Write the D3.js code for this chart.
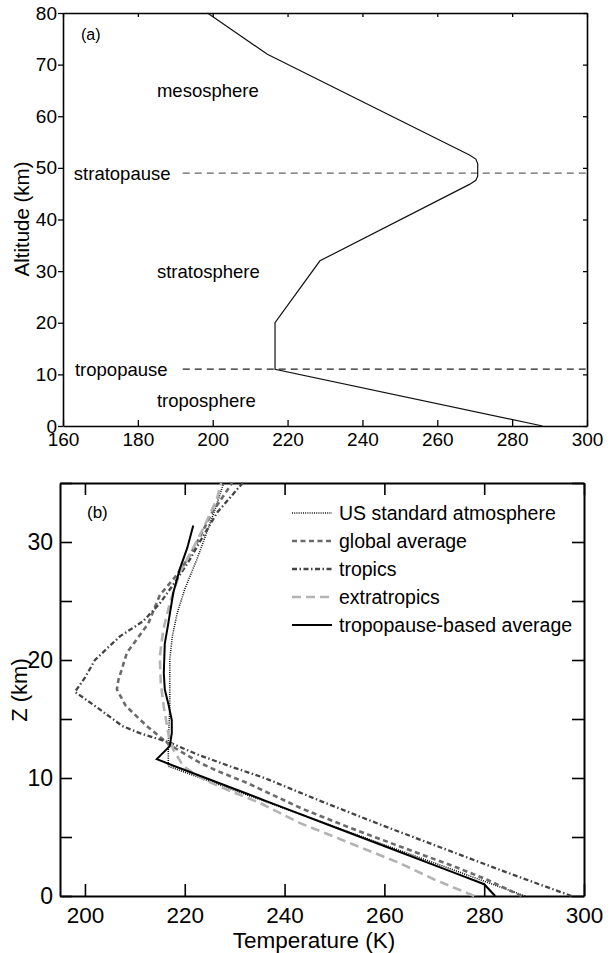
<!DOCTYPE html>
<html>
<head>
<meta charset="utf-8">
<script src="https://cdn.jsdelivr.net/npm/d3@7"></script>
<style>
  body { margin: 0; background: #fff; }
  svg { display: block; font-family: "Liberation Sans", Arial, Helvetica, sans-serif; }
</style>
</head>
<body>
<svg id="chart" width="610" height="953"></svg>
<script>
// panel (a): US standard atmosphere, 0-80 km
const tempA = [288.15, 216.65, 216.65, 228.65, 268.6, 270.3, 270.8, 270.8, 270.3, 268.6, 214.6, 198.6];
const altA  = [0, 11, 20, 32, 46.8, 47.6, 48.4, 50.8, 51.7, 52.5, 72, 80];
const layerNames = ["mesosphere", "stratopause", "stratosphere", "tropopause", "troposphere"];
const layerT = [185.1, 162.9, 185.1, 163.2, 185.1];
const layerZ = [63.7, 47.7, 28.7, 9.7, 3.6];
const pauseZ = [49, 11];
const ticksAx = [160, 180, 200, 220, 240, 260, 280, 300];
const ticksAy = [0, 10, 20, 30, 40, 50, 60, 70, 80];

// panel (b): profiles 0-35 km, [T (K), Z (km)]
const usStandard = [[288.2,0],[252.4,5.5],[216.7,11],[216.7,13],[217,16],[217,20],[217.5,22],[218.5,24],[220,26],[222.4,28.5],[224.4,30.8],[226.1,32.8],[227.8,35]];
const globalAvg = [[287.5,0],[280.5,1.4],[274,2.5],[263.1,4.2],[253,5.8],[243.5,7.4],[232.4,9.6],[226.5,10.6],[223,11.3],[217,12.8],[212.4,14.4],[208.2,16.1],[206.4,17.5],[206.7,18.3],[208.4,20.6],[212.7,23.1],[215,25.5],[218,27],[220.5,28.5],[222.5,30],[225.5,32.5],[229.5,35]];
const tropics = [[297.5,0],[284.5,2],[272,4],[259.5,6],[247.5,8],[236,10],[229,11],[222.5,12],[217,13],[211,13.8],[207.5,14.4],[202.7,15.9],[198,17.3],[200,18.5],[202,20],[207,22],[211.7,23.3],[215,24.8],[218.4,26.8],[221,28.5],[223,30],[226.5,32.5],[231.6,35]];
const extratropics = [[278,0],[270,1.4],[263,2.8],[253,4.5],[243,6.2],[235,7.9],[228.5,9],[223.7,9.9],[219.7,11],[217.7,12.4],[216.7,13.8],[215.8,16],[215.2,18],[215,20.3],[215.7,22.6],[217,24.8],[219,27.4],[221.7,29.5],[224,31.4],[226.4,33.6],[227.3,35]];
const tropoBased = [[282.2,0],[280,1],[273.8,2],[261.4,4],[249,6],[236.6,8],[224.2,10],[218,11],[214.4,11.6],[217,12.7],[217.4,13.8],[217.4,14.9],[216.7,16.3],[216,17.5],[215.8,18.9],[216,21.4],[216.7,23.1],[217.7,25.7],[219,27.7],[220.5,29.5],[221.7,31.4]];
const seriesNames = ["US standard atmosphere", "global average", "tropics", "extratropics", "tropopause-based average"];
const ticksBx = [200, 220, 240, 260, 280, 300];
const ticksBy = [0, 5, 10, 15, 20, 25, 30, 35];
const labelsBy = [0, 10, 20, 30];

const seriesData = [usStandard, globalAvg, tropics, extratropics, tropoBased];
const seriesStyle = [
  {color: "#111", width: 1.6, dash: "1,1.2"},
  {color: "#6b6b6b", width: 2.6, dash: "5,3.5"},
  {color: "#444", width: 2.3, dash: "5,2.5,1.5,2.5"},
  {color: "#b3b3b3", width: 2.6, dash: "9,5"},
  {color: "#000", width: 2, dash: null}
];

const svg = d3.select("#chart");

function styleAxis(g, w, fs) {
  g.select(".domain").attr("stroke", "#000").attr("stroke-width", w);
  g.selectAll(".tick line").attr("stroke", "#000").attr("stroke-width", w * 0.8);
  g.selectAll(".tick text").attr("fill", "#000").attr("font-size", fs)
    .attr("font-family", "'Liberation Sans', Arial, Helvetica, sans-serif");
  g.attr("font-family", null);
}

// ---------- panel (a)
const xa = d3.scaleLinear().domain([160, 300]).range([63, 587]);
const ya = d3.scaleLinear().domain([0, 80]).range([426, 13]);
const ga = svg.append("g");

ga.append("g").attr("transform", "translate(0,426)")
  .call(d3.axisBottom(xa).tickValues(ticksAx).tickSize(-6).tickSizeOuter(0).tickPadding(7))
  .call(g => styleAxis(g, 1.6, 19));
ga.append("g").attr("transform", "translate(0,13)")
  .call(d3.axisTop(xa).tickValues(ticksAx).tickSize(-4).tickSizeOuter(0).tickFormat(""))
  .call(g => styleAxis(g, 1.6, 19));
ga.append("g").attr("transform", "translate(63,0)")
  .call(d3.axisLeft(ya).tickValues(ticksAy).tickSize(5).tickSizeOuter(0).tickPadding(1))
  .call(g => styleAxis(g, 1.6, 19));
ga.append("g").attr("transform", "translate(587,0)")
  .call(d3.axisRight(ya).tickValues(ticksAy).tickSize(-4).tickSizeOuter(0).tickFormat(""))
  .call(g => styleAxis(g, 1.6, 19));

ga.selectAll("line.pause").data(pauseZ).enter().append("line")
  .attr("class", "pause")
  .attr("x1", xa(192)).attr("x2", xa(300))
  .attr("y1", d => ya(d)).attr("y2", d => ya(d))
  .attr("stroke", (d, i) => i == 0 ? "#666" : "#222")
  .attr("stroke-width", 1.3)
  .attr("stroke-dasharray", "7,5");

ga.append("path")
  .datum(d3.zip(tempA, altA))
  .attr("fill", "none").attr("stroke", "#111").attr("stroke-width", 1.2)
  .attr("d", d3.line().x(d => xa(d[0])).y(d => ya(d[1])));

ga.selectAll("text.layer").data(layerNames).enter().append("text")
  .attr("class", "layer")
  .attr("x", (d, i) => xa(layerT[i])).attr("y", (d, i) => ya(layerZ[i]))
  .attr("font-size", 18.5).text(d => d);

ga.append("text").attr("x", 81).attr("y", 40).attr("font-size", 16).text("(a)");
ga.append("text").attr("transform", "translate(29,219) rotate(-90)")
  .attr("text-anchor", "middle").attr("font-size", 20.5).text("Altitude (km)");

// ---------- panel (b)
const xb = d3.scaleLinear().domain([195, 300]).range([60, 584]);
const yb = d3.scaleLinear().domain([0, 35]).range([896, 483]);
const gb = svg.append("g");

gb.append("g").attr("transform", "translate(0,896)")
  .call(d3.axisBottom(xb).tickValues(ticksBx).tickSize(-12).tickSizeOuter(0).tickPadding(11))
  .call(g => styleAxis(g, 2, 22.5));
gb.append("g").attr("transform", "translate(0,483)")
  .call(d3.axisTop(xb).tickValues(ticksBx).tickSize(-12).tickSizeOuter(0).tickFormat(""))
  .call(g => styleAxis(g, 2, 23));
gb.append("g").attr("transform", "translate(60,0)")
  .call(d3.axisLeft(yb).tickValues(ticksBy).tickSize(-12).tickSizeOuter(0).tickPadding(7)
    .tickFormat(d => labelsBy.includes(d) ? d : ""))
  .call(g => styleAxis(g, 2, 23));
gb.append("g").attr("transform", "translate(584,0)")
  .call(d3.axisRight(yb).tickValues(ticksBy).tickSize(-12).tickSizeOuter(0).tickFormat(""))
  .call(g => styleAxis(g, 2, 23));

const lineB = d3.line().x(d => xb(d[0])).y(d => yb(d[1]));
gb.selectAll("path.profile").data(seriesData).enter().append("path")
  .attr("class", "profile")
  .attr("fill", "none")
  .attr("stroke", (d, i) => seriesStyle[i].color)
  .attr("stroke-width", (d, i) => seriesStyle[i].width)
  .attr("stroke-dasharray", (d, i) => seriesStyle[i].dash)
  .attr("d", lineB);

const leg = gb.selectAll("g.leg").data(seriesNames).enter().append("g")
  .attr("class", "leg")
  .attr("transform", (d, i) => "translate(292," + (513 + i * 28) + ")");
leg.append("line").attr("x1", 0).attr("x2", 40).attr("y1", 0).attr("y2", 0)
  .attr("stroke", (d, i) => seriesStyle[i].color)
  .attr("stroke-width", (d, i) => seriesStyle[i].width)
  .attr("stroke-dasharray", (d, i) => seriesStyle[i].dash);
leg.append("text").attr("x", 47).attr("y", 7).attr("font-size", 19.5).text(d => d);

gb.append("text").attr("x", 314).attr("y", 948).attr("text-anchor", "middle")
  .attr("font-size", 22.5).text("Temperature (K)");
gb.append("text").attr("x", 87).attr("y", 518).attr("font-size", 17).text("(b)");
gb.append("text").attr("transform", "translate(27,690) rotate(-90)")
  .attr("text-anchor", "middle").attr("font-size", 22).text("Z (km)");
</script>
</body>
</html>
